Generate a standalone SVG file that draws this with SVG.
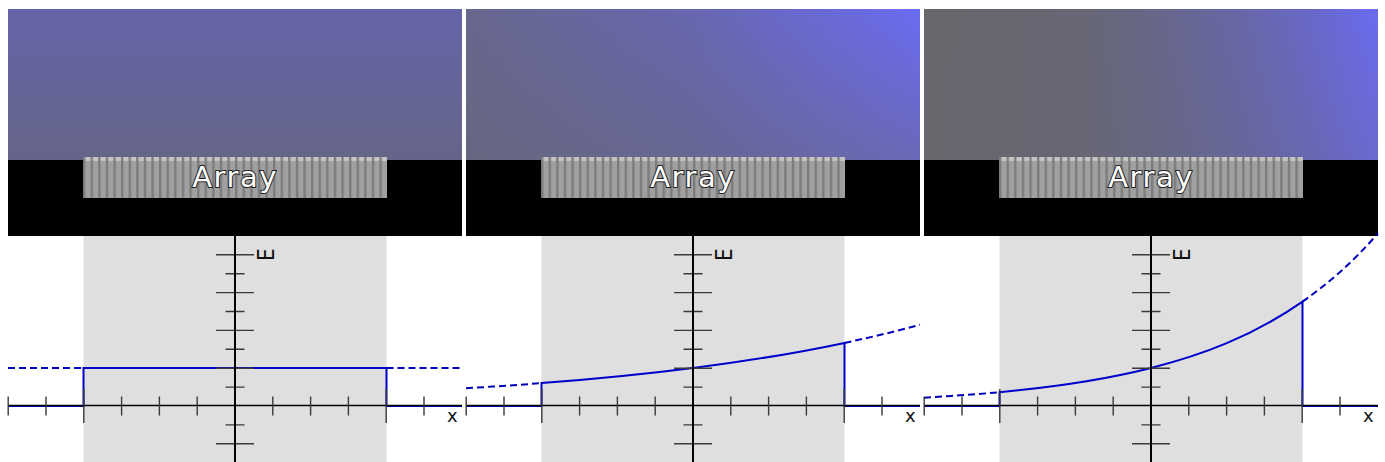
<svg xmlns="http://www.w3.org/2000/svg" xmlns:xlink="http://www.w3.org/1999/xlink" width="1385" height="462" viewBox="0 0 1385 462">
<style>
.black{fill:#000}
.band{fill:#dfdfdf}
.arr{fill:url(#stripes)}
.lbl{font-family:"DejaVu Sans","Liberation Sans",sans-serif;font-size:29px;letter-spacing:1.5px;fill:#fff;stroke:#222;stroke-width:2px;paint-order:stroke;text-anchor:middle}
.ax{font-family:"DejaVu Sans","Liberation Sans",sans-serif;font-size:18px;fill:#111}
.curve{fill:none;stroke:#0000cc;stroke-width:2}
.dash{fill:none;stroke:#0000bb;stroke-width:2;stroke-dasharray:7 4}
.axis{fill:none;stroke:#000;stroke-width:1.3}
.yaxis{fill:none;stroke:#000;stroke-width:2}
.tick{fill:none;stroke:#3a3a3a;stroke-width:1.4}
</style>
<defs>
<pattern id="stripes" patternUnits="userSpaceOnUse" x="-152" y="157" width="7.6" height="41">
<rect width="7.6" height="41" fill="#a0a0a0"/>
<rect width="2.4" height="41" fill="#7c7c7c"/>
<rect x="2.4" width="5.2" height="4" fill="#c4c4c4"/>
</pattern>
<linearGradient id="g2" x1="0" y1="0" x2="1" y2="0">
<stop offset="0" stop-color="#67678e"/>
<stop offset="0.5" stop-color="#6767b0"/>
<stop offset="1" stop-color="#6b6bf2"/>
</linearGradient>
<linearGradient id="g3" x1="0" y1="0" x2="1" y2="0">
<stop offset="0" stop-color="#67676c"/>
<stop offset="0.35" stop-color="#676776"/>
<stop offset="0.5" stop-color="#676788"/>
<stop offset="0.7" stop-color="#6767a8"/>
<stop offset="0.85" stop-color="#6868c8"/>
<stop offset="1" stop-color="#6b6bf0"/>
</linearGradient>
<linearGradient id="s1" x1="0" y1="0" x2="0" y2="1">
<stop offset="0" stop-color="#666670" stop-opacity="0"/>
<stop offset="1" stop-color="#666670" stop-opacity="0.55"/>
</linearGradient>
<linearGradient id="s2" x1="0" y1="0" x2="0" y2="1">
<stop offset="0" stop-color="#666670" stop-opacity="0"/>
<stop offset="1" stop-color="#666670" stop-opacity="0.45"/>
</linearGradient>
<linearGradient id="s3" x1="0" y1="0" x2="0" y2="1">
<stop offset="0" stop-color="#666670" stop-opacity="0"/>
<stop offset="1" stop-color="#666670" stop-opacity="0.25"/>
</linearGradient>
<g id="axes">
<path class="axis" d="M-227,405.5H227"/>
<path class="tick" d="M-226.8,396.5V415.5M-189,396.5V415.5M-113.4,396.5V415.5M-75.6,396.5V415.5M-37.8,396.5V415.5M37.8,396.5V415.5M75.6,396.5V415.5M113.4,396.5V415.5M189,396.5V415.5M-151.2,389V423M151.2,389V423"/>
<path class="tick" d="M-19,254.8H19M-9.5,273.7H9.5M-19,292.6H19M-9.5,311.5H9.5M-19,330.4H19M-9.5,349.3H9.5M-19,368.2H19M-9.5,387.1H9.5M-9.5,424.9H9.5M-19,443.8H19"/>
<path class="yaxis" d="M0,236V462"/>
</g>
</defs>
<rect width="1385" height="462" fill="#fff"/>

<g id="panel-1" transform="translate(235,0)">
<rect x="-227" y="9" width="454" height="151" fill="#6464a8"/>
<rect x="-227" y="9" width="454" height="151" fill="url(#s1)"/>
<rect class="black" x="-227" y="160" width="454" height="76"/>
<rect class="arr" x="-152" y="157" width="304" height="41"/>
<text class="lbl" x="0" y="187">Array</text>
<rect class="band" x="-151.5" y="236" width="303" height="226"/>
<g class="plot">
<path class="dash" d="M-227,368H-151.5M151.5,368H227"/>
<path class="curve" d="M-227,406H-151.5V368H151.5V406H227"/>
<use xlink:href="#axes"/>
<text class="ax" x="212" y="422">x</text>
<text class="ax" transform="translate(39,261) rotate(-90) scale(1,1.16)" style="font-size:20px">E</text>
</g>
</g>

<g id="panel-2" transform="translate(693,0)">
<rect x="-227" y="9" width="454" height="151" fill="url(#g2)"/>
<rect x="-227" y="9" width="454" height="151" fill="url(#s2)"/>
<rect class="black" x="-227" y="160" width="454" height="76"/>
<rect class="arr" x="-152" y="157" width="304" height="41"/>
<text class="lbl" x="0" y="187">Array</text>
<rect class="band" x="-151.5" y="236" width="303" height="226"/>
<g class="plot">
<path class="dash" d="M-227,388.23C-201.83,386.73 -176.33,385.05 -151.5,383.12M151.5,342.9C176.67,337.58 201.83,331.6 227,324.75"/>
<path class="curve" d="M-227,406H-151.5V383.12C-101,379.25 -50.5,374.43 0,368C50.5,361.57 101,353.58 151.5,342.9V406H227"/>
<use xlink:href="#axes"/>
<text class="ax" x="212" y="422">x</text>
<text class="ax" transform="translate(39,261) rotate(-90) scale(1,1.16)" style="font-size:20px">E</text>
</g>
</g>

<g id="panel-3" transform="translate(1151,0)">
<rect x="-227" y="9" width="454" height="151" fill="url(#g3)"/>
<rect x="-227" y="9" width="454" height="151" fill="url(#s3)"/>
<rect class="black" x="-227" y="160" width="454" height="76"/>
<rect class="arr" x="-152" y="157" width="304" height="41"/>
<text class="lbl" x="0" y="187">Array</text>
<rect class="band" x="-151.5" y="236" width="303" height="226"/>
<g class="plot">
<path class="dash" d="M-227,397.64C-201.83,396.24 -176.33,394.49 -151.5,392.17M151.5,301.6C176.67,284.07 201.83,262.3 227,233.3"/>
<path class="curve" d="M-227,406H-151.5V392.17C-101,387.51 -50.5,380.8 0,368C50.5,355.2 101,336.76 151.5,301.6V406H227"/>
<use xlink:href="#axes"/>
<text class="ax" x="212" y="422">x</text>
<text class="ax" transform="translate(39,261) rotate(-90) scale(1,1.16)" style="font-size:20px">E</text>
</g>
</g>
</svg>
